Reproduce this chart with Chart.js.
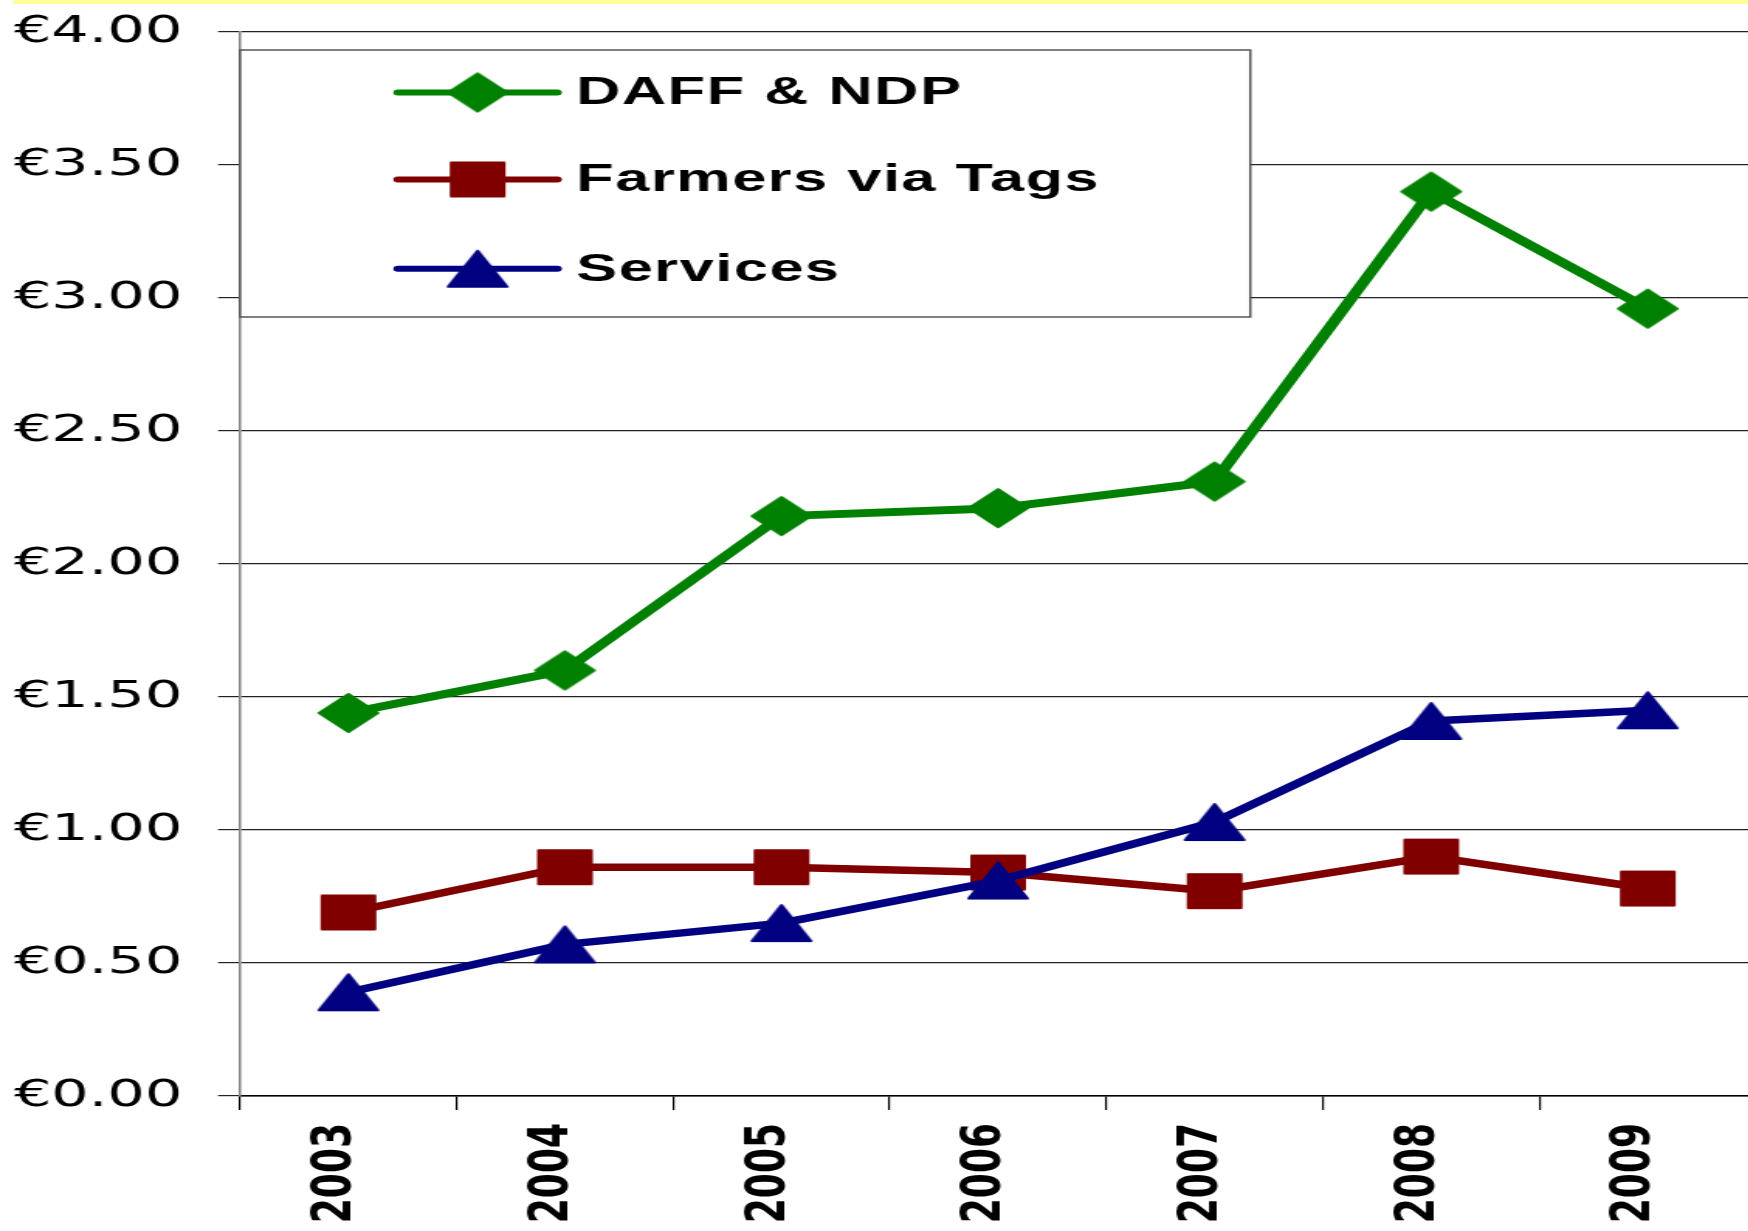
<!DOCTYPE html>
<html>
<head>
<meta charset="utf-8">
<script src="https://cdn.jsdelivr.net/npm/chart.js@4.4.1/dist/chart.umd.min.js"></script>
<style>
  html, body { margin: 0; padding: 0; background: #fff; overflow: hidden; }
  #chart { display: block; }
</style>
</head>
<body>
<!-- the picture is wide: draw on a narrower canvas and stretch it sideways (last few px run off the page, as in the original) -->
<canvas id="chart" width="1133" height="1231" style="width:1755.75px;height:1231px"></canvas>
<script>
// data
const years = ['2003', '2004', '2005', '2006', '2007', '2008', '2009'];
const daffNdp = [1.44, 1.60, 2.18, 2.21, 2.31, 3.40, 2.96];
const farmersViaTags = [0.69, 0.86, 0.86, 0.84, 0.77, 0.90, 0.78];
const services = [0.39, 0.57, 0.65, 0.81, 1.03, 1.41, 1.45];
const seriesNames = ['DAFF & NDP', 'Farmers via Tags', 'Services'];
const yTickLabels = ['€0.00', '€0.50', '€1.00', '€1.50', '€2.00', '€2.50', '€3.00', '€3.50', '€4.00'];

const GREEN = '#008000';
const MAROON = '#800000';
const NAVY = '#000080';

// marker shapes (drawn centred, slightly rounded corners)
function makeMarker(kind, color) {
    const c = document.createElement('canvas');
    c.width = 44;
    c.height = 44;
    const g = c.getContext('2d');
    g.fillStyle = color;
    g.strokeStyle = color;
    g.lineWidth = 2;
    g.lineJoin = 'round';
    g.beginPath();
    if (kind === 'diamond') {
        g.moveTo(22, 3); g.lineTo(41, 22); g.lineTo(22, 41); g.lineTo(3, 22);
    } else if (kind === 'square') {
        g.rect(5, 5, 34, 34);
    } else {
        g.moveTo(22, 4); g.lineTo(41, 40); g.lineTo(3, 40);
    }
    g.closePath();
    g.fill();
    g.stroke();
    return c;
}

const markers = [makeMarker('diamond', GREEN), makeMarker('square', MAROON), makeMarker('triangle', NAVY)];

// pale yellow strip across the top
const topStrip = {
    id: 'topStrip',
    beforeDraw(chart) {
        const ctx = chart.ctx;
        ctx.save();
        ctx.fillStyle = '#ffff99';
        ctx.fillRect(8.5, 0, chart.width, 4);
        ctx.restore();
    }
};

// boxed legend inside the plot, like the original
const boxLegend = {
    id: 'boxLegend',
    beforeDatasetsDraw(chart, args, opts) {
        const ctx = chart.ctx;
        const left = chart.chartArea.left;
        ctx.save();
        ctx.fillStyle = '#fff';
        ctx.fillRect(left, opts.top, opts.right - left, opts.bottom - opts.top);
        ctx.strokeStyle = '#555';
        ctx.lineWidth = 1.5;
        ctx.strokeRect(left, opts.top, opts.right - left, opts.bottom - opts.top);

        chart.data.datasets.forEach((ds, i) => {
            const y = opts.rows[i];
            ctx.strokeStyle = ds.borderColor;
            ctx.lineWidth = 6;
            ctx.lineCap = 'round';
            ctx.beginPath();
            ctx.moveTo(opts.lineFrom, y);
            ctx.lineTo(opts.lineTo, y);
            ctx.stroke();
            const m = ds.pointStyle;
            const cx = (opts.lineFrom + opts.lineTo) / 2;
            ctx.drawImage(m, cx - m.width / 2, y - m.height / 2);
            ctx.fillStyle = '#000';
            ctx.font = 'bold 39.5px "Liberation Sans", Arial, sans-serif';
            ctx.letterSpacing = '1px';
            ctx.textAlign = 'left';
            ctx.textBaseline = 'middle';
            ctx.fillText(ds.label, opts.textX, y + 1);
        });
        ctx.restore();
    }
};

const ctx = document.getElementById('chart').getContext('2d');
const chart = new Chart(ctx, {
    type: 'line',
    data: {
        labels: years,
        datasets: [
            {
                label: seriesNames[0],
                data: daffNdp,
                borderColor: GREEN,
                backgroundColor: GREEN,
                borderWidth: 8,
                pointStyle: markers[0],
                pointRadius: 20,
                order: 2
            },
            {
                label: seriesNames[1],
                data: farmersViaTags,
                borderColor: MAROON,
                backgroundColor: MAROON,
                borderWidth: 7.5,
                pointStyle: markers[1],
                pointRadius: 20,
                order: 1
            },
            {
                label: seriesNames[2],
                data: services,
                borderColor: NAVY,
                backgroundColor: NAVY,
                borderWidth: 7.5,
                pointStyle: markers[2],
                pointRadius: 20,
                order: 0
            }
        ]
    },
    options: {
        responsive: false,
        devicePixelRatio: 1,
        animation: false,
        events: [],
        layout: { autoPadding: false, padding: { top: 32, left: 0, right: 0, bottom: 0 } },
        elements: { line: { tension: 0, borderJoinStyle: 'round', borderCapStyle: 'round' } },
        plugins: {
            legend: { display: false },
            tooltip: { enabled: false },
            boxLegend: {
                top: 50, bottom: 317, right: 806.7,
                rows: [92.5, 179.5, 268.7],
                lineFrom: 256.8, lineTo: 359.5, textX: 371.8
            }
        },
        scales: {
            x: {
                offset: true,
                afterFit(scale) { scale.height = 135; },
                ticks: {
                    autoSkip: false,
                    minRotation: 90,
                    maxRotation: 90,
                    padding: 13,
                    labelOffset: -8,
                    color: '#000',
                    font: { family: '"DejaVu Sans", sans-serif', weight: 'bold', size: 36 }
                },
                grid: { offset: true, drawOnChartArea: false, tickLength: 14, color: '#000', lineWidth: 1.2 },
                border: { color: '#000', width: 1.5 }
            },
            y: {
                min: 0,
                max: 4,
                afterFit(scale) {
                    scale.width = 154.9;
                    // the tick padding would otherwise push the plot top down
                    scale.paddingTop = 0;
                    scale.paddingBottom = 0;
                },
                ticks: {
                    stepSize: 0.5,
                    padding: 23,
                    color: '#000',
                    font: { family: '"DejaVu Sans", sans-serif', size: 38 },
                    callback: (v, i) => yTickLabels[i]
                },
                grid: { color: '#222', lineWidth: 1.2, tickLength: 14.2 },
                border: { color: '#888', width: 1.6 }
            }
        }
    },
    plugins: [topStrip, boxLegend]
});
</script>
</body>
</html>
